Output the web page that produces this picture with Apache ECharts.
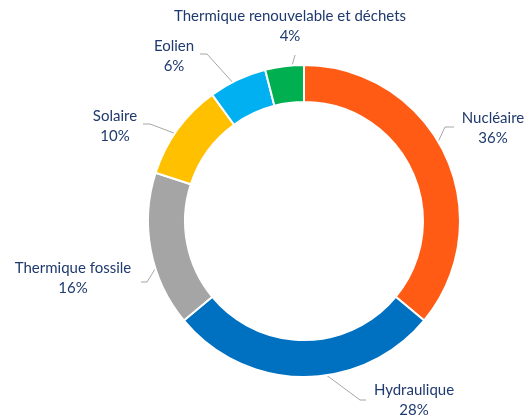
<!DOCTYPE html>
<html>
<head>
<meta charset="utf-8">
<script src="https://cdn.jsdelivr.net/npm/echarts@6/dist/echarts.min.js"></script>
<style>
  html, body { margin: 0; padding: 0; background: #fff; }
  #pie { width: 526px; height: 419px; }
</style>
</head>
<body>
<div id="pie"></div>
<script>
// données (parts de production, %)
const categories = ['Nucléaire', 'Hydraulique', 'Thermique fossile', 'Solaire', 'Eolien', 'Thermique renouvelable et déchets'];
const shares = [36, 28, 16, 10, 6, 4];
const colors = ['#FF5B14', '#0070C0', '#A5A5A5', '#FFC000', '#00B0F0', '#00B050'];

// placement des étiquettes : [x, y, coudeX, coudeY, finX]
const labelSpots = [
  [493, 128, 445, 127, 454],
  [414, 400, 360, 400, 366],
  [73, 278, 147, 282, 141],
  [115, 126, 150, 124, 143],
  [174, 56, 207, 54, 200],
  [290, 26, 295, 55, 295]
];

const cx = 304, cy = 221, rIn = 119, rOut = 156;
const total = shares.reduce((a, b) => a + b, 0);

// angle médian de chaque part (départ à 12h, sens horaire)
let acc = 0;
const midAngles = shares.map(v => {
  const mid = 90 - (acc + v / 2) / total * 360;
  acc += v;
  return mid * Math.PI / 180;
});

const pieChart = echarts.init(document.getElementById('pie'));

const pieOption = {
  animation: false,
  series: [
    {
      type: 'pie',
      center: [cx, cy],
      radius: [rIn, rOut],
      startAngle: 90,
      clockwise: true,
      avoidLabelOverlap: false,
      itemStyle: {
        borderColor: '#fff',
        borderWidth: 2
      },
      label: {
        show: true,
        position: 'outside',
        fontFamily: 'Lato',
        fontSize: 15,
        lineHeight: 20,
        color: '#1F3A6E',
        align: 'center',
        formatter: p => p.name + '\n' + Math.round(p.percent) + '%'
      },
      labelLine: {
        show: true,
        lineStyle: { color: '#A6A6A6', width: 1 }
      },
      labelLayout: function (params) {
        const i = params.dataIndex;
        const s = labelSpots[i];
        const a = midAngles[i];
        const rm = (rIn + rOut) / 2;
        return {
          x: s[0],
          y: s[1],
          align: 'center',
          verticalAlign: 'middle',
          labelLinePoints: [
            [cx + rm * Math.cos(a), cy - rm * Math.sin(a)],
            [s[2], s[3]],
            [s[4], s[3]]
          ]
        };
      },
      emphasis: { disabled: true },
      data: categories.map((name, i) => ({
        name: name,
        value: shares[i],
        itemStyle: { color: colors[i] }
      }))
    }
  ]
};

pieChart.setOption(pieOption);
</script>
</body>
</html>
